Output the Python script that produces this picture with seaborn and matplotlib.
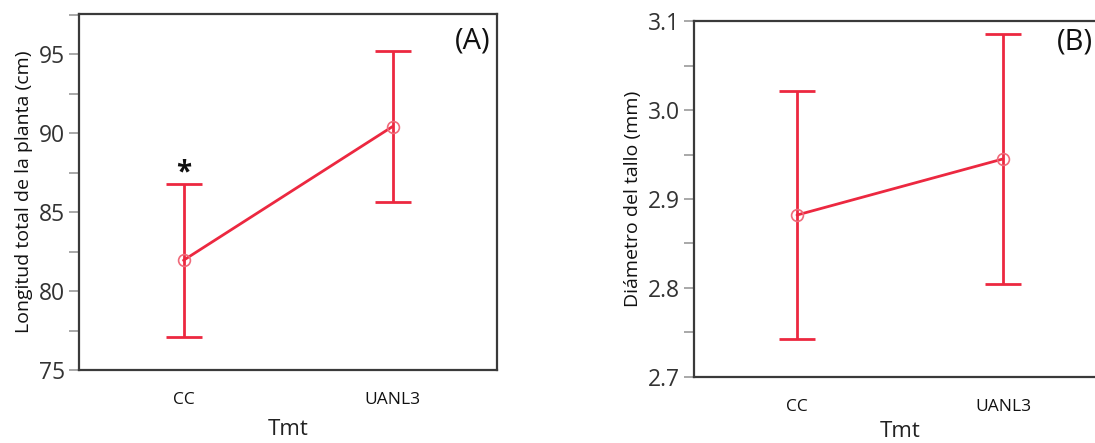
import matplotlib
matplotlib.use("Agg")
import matplotlib.pyplot as plt
from matplotlib.ticker import MultipleLocator
import pandas as pd
import seaborn as sns

# Treatment groups and their means with interval half-widths
treatments = ["CC", "UANL3"]
length_mean = [81.95, 90.42]
length_err = [4.83, 4.78]
diam_mean = [2.882, 2.945]
diam_err = [0.139, 0.140]

sns.set_theme(style="white")
plt.rcParams["font.family"] = ["Open Sans", "DejaVu Sans"]

RED = "#EC2840"
SPINE = "#3a3a3a"

fig = plt.figure(figsize=(10.95, 4.43), dpi=100)
W, H = 1095, 443
axA = fig.add_axes([79 / W, 1 - 370 / H, 418 / W, 356 / H])
axB = fig.add_axes([694 / W, 1 - 377 / H, 412 / W, 356 / H])


def draw_panel(ax, means, errs, ylim, major, minor, ylabel, fmt, xpad):
    df = pd.DataFrame({"Tmt": treatments, "value": means})
    sns.lineplot(data=df, x="Tmt", y="value", ax=ax, color=RED, lw=2.0,
                 marker="o", markersize=8.5, markerfacecolor="none",
                 markeredgecolor="#F06a7a", markeredgewidth=1.2, sort=False)
    ax.errorbar(df["Tmt"], df["value"], yerr=errs, fmt="none", ecolor=RED,
                elinewidth=2.0, capsize=13, capthick=2.0, zorder=1)
    ax.set_xlim(-0.5, 1.5)
    ax.set_ylim(*ylim)
    ax.yaxis.set_major_locator(MultipleLocator(major))
    ax.yaxis.set_minor_locator(MultipleLocator(minor))
    ax.yaxis.set_major_formatter(plt.FormatStrFormatter(fmt))
    ax.tick_params(axis="y", which="both", left=True, length=7, width=1.2,
                   color="#9a9a9a", labelsize=16.5, labelcolor="#333333", pad=3)
    ax.tick_params(axis="x", bottom=False, labelsize=12.5,
                   labelcolor="#111111", pad=10)
    for s in ax.spines.values():
        s.set_color(SPINE)
        s.set_linewidth(1.6)
    ax.set_ylabel(ylabel, fontsize=14, color="#111111", labelpad=4)
    ax.set_xlabel("Tmt", fontsize=16, color="#222222", labelpad=xpad)


draw_panel(axA, length_mean, length_err, (75, 97.55), 5, 2.5,
           "Longitud total de la planta (cm)", "%d", 8)
draw_panel(axB, diam_mean, diam_err, (2.7, 3.1), 0.1, 0.05,
           "Diámetro del tallo (mm)", "%.1f", 4)

# Significance mark above the CC interval
axA.annotate("*", xy=(0, length_mean[0] + length_err[0]),
             xytext=(0, 8), textcoords="offset points",
             ha="center", va="center", fontsize=20, color="#111111",
             fontweight="bold")

axA.text(0.985, 0.965, "(A)", transform=axA.transAxes, ha="right", va="top",
         fontsize=21, color="#111111")
fig.text(1093 / W, 1 - 42 / H, "(B)", ha="right", va="center",
         fontsize=21, color="#111111")

fig.savefig("out.png", dpi=100)
